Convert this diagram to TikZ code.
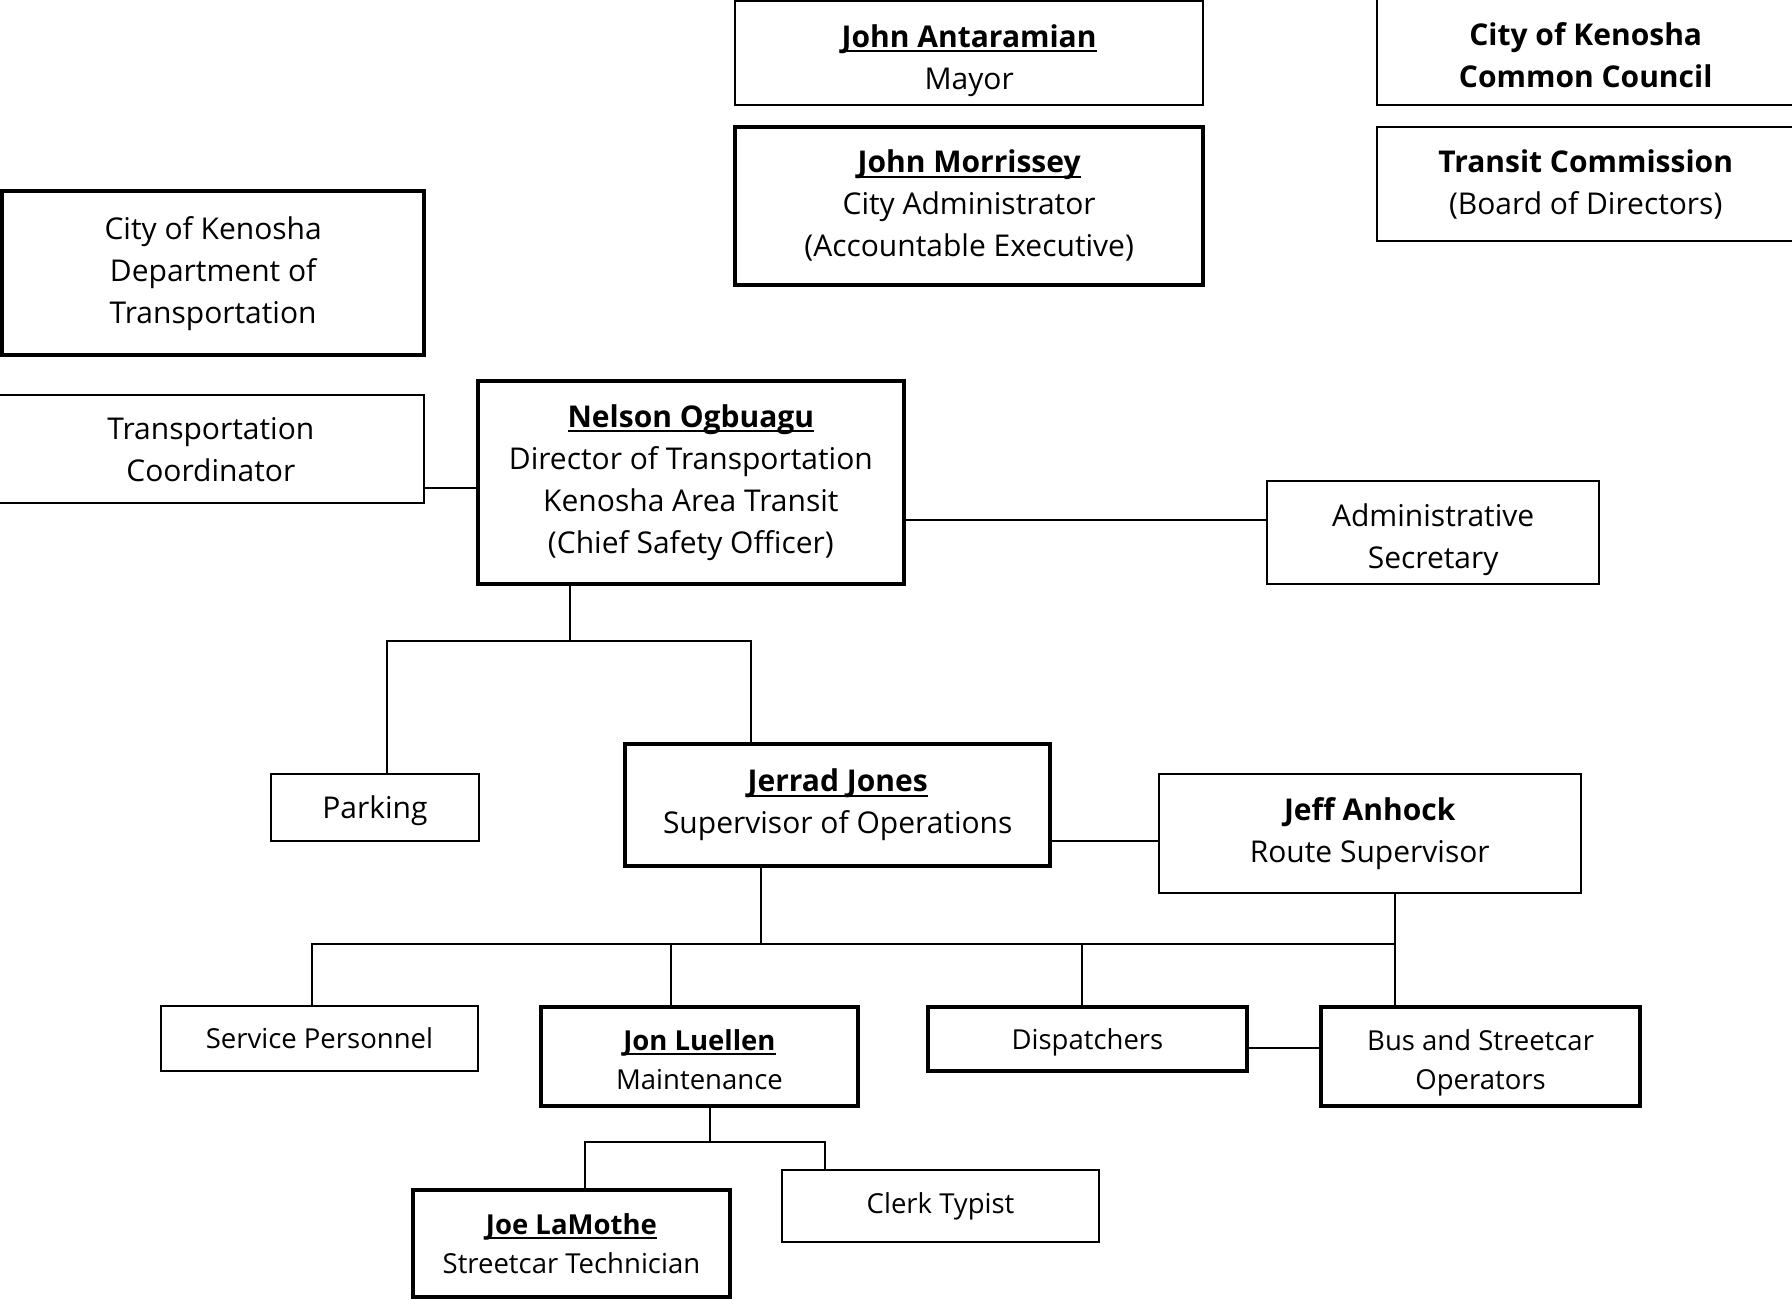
\documentclass[tikz,border=0pt]{standalone}
\usepackage{fontspec}
\setmainfont{Open Sans}
\newcommand\ulname[1]{\setbox0=\hbox{\bfseries #1}\leavevmode\rlap{\rule[-5pt]{\wd0}{2pt}}\box0}
\newcommand\strt[1]{\rule{0pt}{#1}}
\newcommand\bx[6]{\node[#1, minimum width={(#4-#2)*1.142857pt}, minimum height={(#5-#3)*1.142857pt}] (#6) at ({(#2+#4)/2},{(#3+#5)/2})}
\tikzset{
  box/.style={draw, line width=2pt, inner sep=0pt, align=center, font=\fontsize{30}{42}\selectfont},
  tbox/.style={box, line width=4pt},
  small/.style={font=\fontsize{27.5}{39}\selectfont},
  conn/.style={line width=2pt}
}
\begin{document}
\begin{tikzpicture}[x=1.142857pt,y=-1.142857pt]
\useasboundingbox (0,0) rectangle (1568,1137);
\fill[white] (0,0) rectangle (1568,1137);
\clip (0,0) rectangle (1568,1137);
\bx{box}{643}{1}{1053}{92}{mayor}{\strt{37pt}\ulname{John Antaramian}\\Mayor};
\bx{tbox}{643}{111}{1053}{249}{morr}{\ulname{John Morrissey}\\City Administrator\\(Accountable Executive)};
\bx{box}{1205}{-4}{1570}{92}{council}{\strt{32pt}\textbf{City of Kenosha}\\\textbf{Common Council}};
\bx{box}{1205}{111}{1570}{211}{commission}{\textbf{Transit Commission}\\(Board of Directors)};
\bx{tbox}{2}{167}{371}{311}{dot}{City of Kenosha\\Department of\\Transportation};
\bx{box}{-2}{346}{371}{440}{coord}{Transportation\\Coordinator};
\bx{tbox}{418}{333}{791}{511}{nelson}{\ulname{Nelson Ogbuagu}\\Director of Transportation\\Kenosha Area Transit\\(Chief Safety Officer)};
\bx{box}{1109}{421}{1399}{511}{admin}{\strt{37pt}Administrative\\Secretary};
\bx{box}{237}{677}{419}{736}{parking}{\strt{30pt}Parking};
\bx{tbox}{547}{651}{919}{758}{jerrad}{\ulname{Jerrad Jones}\\Supervisor of Operations};
\bx{box}{1014}{677}{1383}{781}{jeff}{\textbf{Jeff Anhock}\\Route Supervisor};
\bx{box,small}{141}{880}{418}{937}{service}{Service Personnel};
\bx{tbox,small}{473}{881}{751}{968}{jon}{\strt{27pt}\ulname{Jon Luellen}\\Maintenance};
\bx{tbox,small}{812}{881}{1091}{937}{disp}{\strt{28pt}Dispatchers};
\bx{tbox,small}{1156}{881}{1435}{968}{bus}{\strt{32.5pt}Bus and Streetcar\\Operators};
\bx{tbox,small}{361}{1041}{639}{1135}{joe}{\ulname{Joe LaMothe}\\Streetcar Technician};
\bx{box,small}{684}{1024}{962}{1087}{clerk}{Clerk Typist};
% connectors
\coordinate (c1) at (400,427);
\draw[conn] (coord.east |- c1) -- (nelson.west |- c1);
\coordinate (c2) at (900,455);
\draw[conn] (nelson.east |- c2) -- (admin.west |- c2);
\coordinate (b1) at (499,561); \coordinate (b2) at (339,561); \coordinate (b3) at (657,561);
\draw[conn] (nelson.south -| b1) -- (b1);
\draw[conn] (parking.north -| b2) -- (b2) -- (b3) -- (jerrad.north -| b3);
\coordinate (c3) at (960,736);
\draw[conn] (jerrad.east |- c3) -- (jeff.west |- c3);
\coordinate (d0) at (666,826); \coordinate (d1) at (273,826); \coordinate (d2) at (587,826);
\coordinate (d3) at (947,826); \coordinate (d4) at (1221,826);
\draw[conn] (jerrad.south -| d0) -- (d0);
\draw[conn] (service.north -| d1) -- (d1) -- (d4);
\draw[conn] (jeff.south -| d4) -- (bus.north -| d4);
\draw[conn] (d2) -- (jon.north -| d2);
\draw[conn] (d3) -- (disp.north -| d3);
\coordinate (c4) at (1120,917);
\draw[conn] (disp.east |- c4) -- (bus.west |- c4);
\coordinate (e0) at (621,999); \coordinate (e1) at (512,999); \coordinate (e2) at (722,999);
\draw[conn] (jon.south -| e0) -- (e0);
\draw[conn] (joe.north -| e1) -- (e1) -- (e2) -- (clerk.north -| e2);
\end{tikzpicture}
\end{document}
